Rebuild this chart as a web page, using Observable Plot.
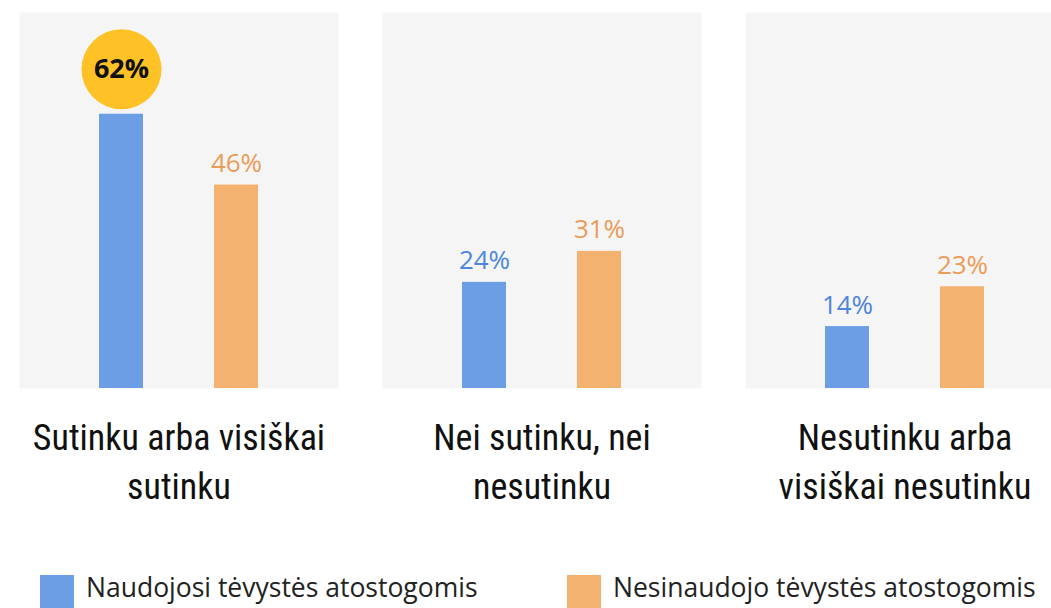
<!DOCTYPE html>
<html>
<head>
<meta charset="utf-8">
<script src="https://cdn.jsdelivr.net/npm/d3@7"></script>
<script src="https://cdn.jsdelivr.net/npm/@observablehq/plot@0.6"></script>
<style>
  html, body { margin: 0; padding: 0; background: #fff; }
  #chart { position: relative; width: 1051px; height: 608px; overflow: hidden; }
  .legend { position: absolute; top: 0; left: 0; width: 1051px; height: 608px; font-family: "Open Sans", sans-serif; font-size: 26.5px; color: #222; pointer-events: none; }
  .legend .sw { position: absolute; top: 575px; width: 34px; height: 36px; }
  .legend .lbl { position: absolute; top: 569px; line-height: 36px; white-space: nowrap; }
</style>
</head>
<body>
<div id="chart"></div>
<script>
const categories = ["Sutinku arba visiškai\nsutinku", "Nei sutinku, nei\nnesutinku", "Nesutinku arba\nvisiškai nesutinku"];
const series = ["Naudojosi tėvystės atostogomis", "Nesinaudojo tėvystės atostogomis"];
const usedValues = [62, 24, 14];
const notUsedValues = [46, 31, 23];
const seriesColors = ["#6c9ee6", "#f4b270"];
const labelColors = ["#4f85da", "#eb9c58"];
const highlightColor = "#fec227";

const data = [];
categories.forEach((c, i) => {
  data.push({category: c, series: series[0], value: usedValues[i]});
  data.push({category: c, series: series[1], value: notUsedValues[i]});
});
const maxValue = d3.max(data, d => d.value);
const plain = data.filter(d => d.value !== maxValue);
const highlighted = data.filter(d => d.value === maxValue);

const chart = Plot.plot({
  width: 1051,
  height: 540,
  marginLeft: 18,
  marginRight: -14,
  marginTop: 12,
  marginBottom: 152,
  style: {background: "transparent", overflow: "visible"},
  fx: {domain: categories, paddingInner: 0.12, paddingOuter: 0, label: null},
  x: {domain: series, paddingInner: 0.62, paddingOuter: 0.69, axis: null},
  y: {domain: [0, 85], axis: null},
  color: {domain: series, range: seriesColors},
  marks: [
    Plot.frame({fill: "#f5f5f5", stroke: null}),
    Plot.barY(data, {fx: "category", x: "series", y: "value", fill: "series"}),
    Plot.text(plain, {
      fx: "category", x: "series", y: "value",
      text: d => d.value + "%",
      fill: d => labelColors[series.indexOf(d.series)],
      lineAnchor: "bottom", dy: -13,
      fontSize: 26, fontFamily: "'Open Sans', sans-serif"
    }),
    Plot.dot(highlighted, {fx: "category", x: "series", y: "value", r: 40, dy: -45, fill: highlightColor, stroke: null}),
    Plot.text(highlighted, {
      fx: "category", x: "series", y: "value",
      text: d => d.value + "%",
      fill: "#111", dy: -45,
      fontSize: 27, fontWeight: "bold", fontFamily: "'Open Sans', sans-serif"
    }),
    Plot.axisFx({
      anchor: "bottom", tickSize: 0, tickPadding: 27, label: null,
      fontSize: 36, lineHeight: 1.36, fill: "#111",
      fontFamily: "'Roboto Condensed', 'Liberation Sans Narrow', 'DejaVu Sans Condensed', sans-serif",
      fontWeight: 400
    })
  ]
});
document.getElementById("chart").appendChild(chart);

const legend = document.createElement("div");
legend.className = "legend";
const legendLeft = [40, 567];
series.forEach((s, i) => {
  const sw = document.createElement("span");
  sw.className = "sw";
  sw.style.left = legendLeft[i] + "px";
  sw.style.background = seriesColors[i];
  const label = document.createElement("span");
  label.className = "lbl";
  label.style.left = (legendLeft[i] + 46) + "px";
  label.textContent = s;
  legend.appendChild(sw);
  legend.appendChild(label);
});
document.getElementById("chart").appendChild(legend);
</script>
</body>
</html>
